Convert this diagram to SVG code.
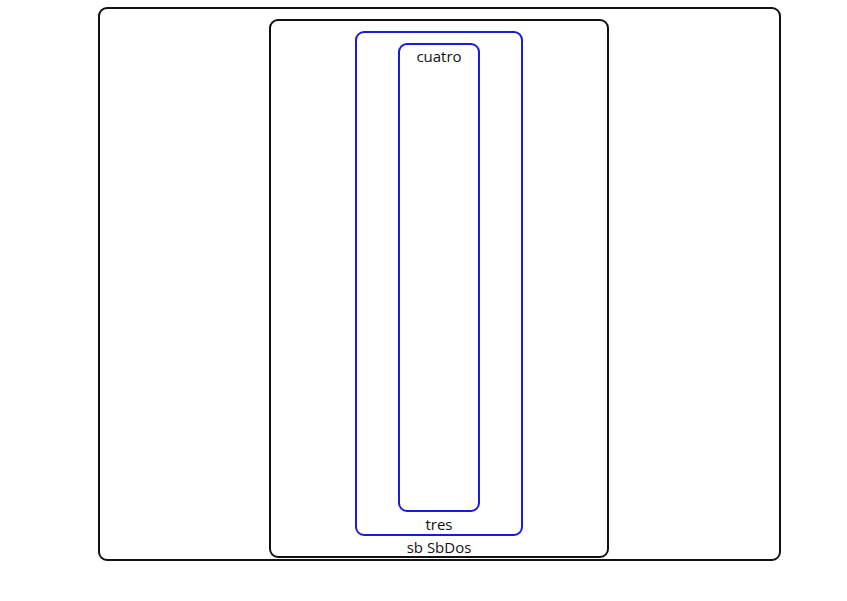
<svg xmlns="http://www.w3.org/2000/svg" width="847" height="601" viewBox="0 0 847 601">
<style>
.k{fill:none;stroke:#111;stroke-width:2}
.b{fill:none;stroke:#1a1ae0;stroke-width:2}
text{font-family:"Open Sans","Liberation Sans",sans-serif;font-size:15px;fill:#111;text-anchor:middle}
</style>
<rect width="847" height="601" fill="#fff"/>
<g id="outer"><rect class="k" x="99" y="8" width="681" height="552" rx="8"/></g>
<g id="SbDos"><rect class="k" x="270" y="20" width="338" height="537" rx="8"/><text x="439" y="553">sb SbDos</text></g>
<g id="tres"><rect class="b" x="356" y="32" width="166" height="503" rx="8"/><text x="439" y="530">tres</text></g>
<g id="cuatro"><rect class="b" x="399" y="44" width="80" height="467" rx="8"/><text x="439" y="62">cuatro</text></g>
<g id="connectors"/>
</svg>
